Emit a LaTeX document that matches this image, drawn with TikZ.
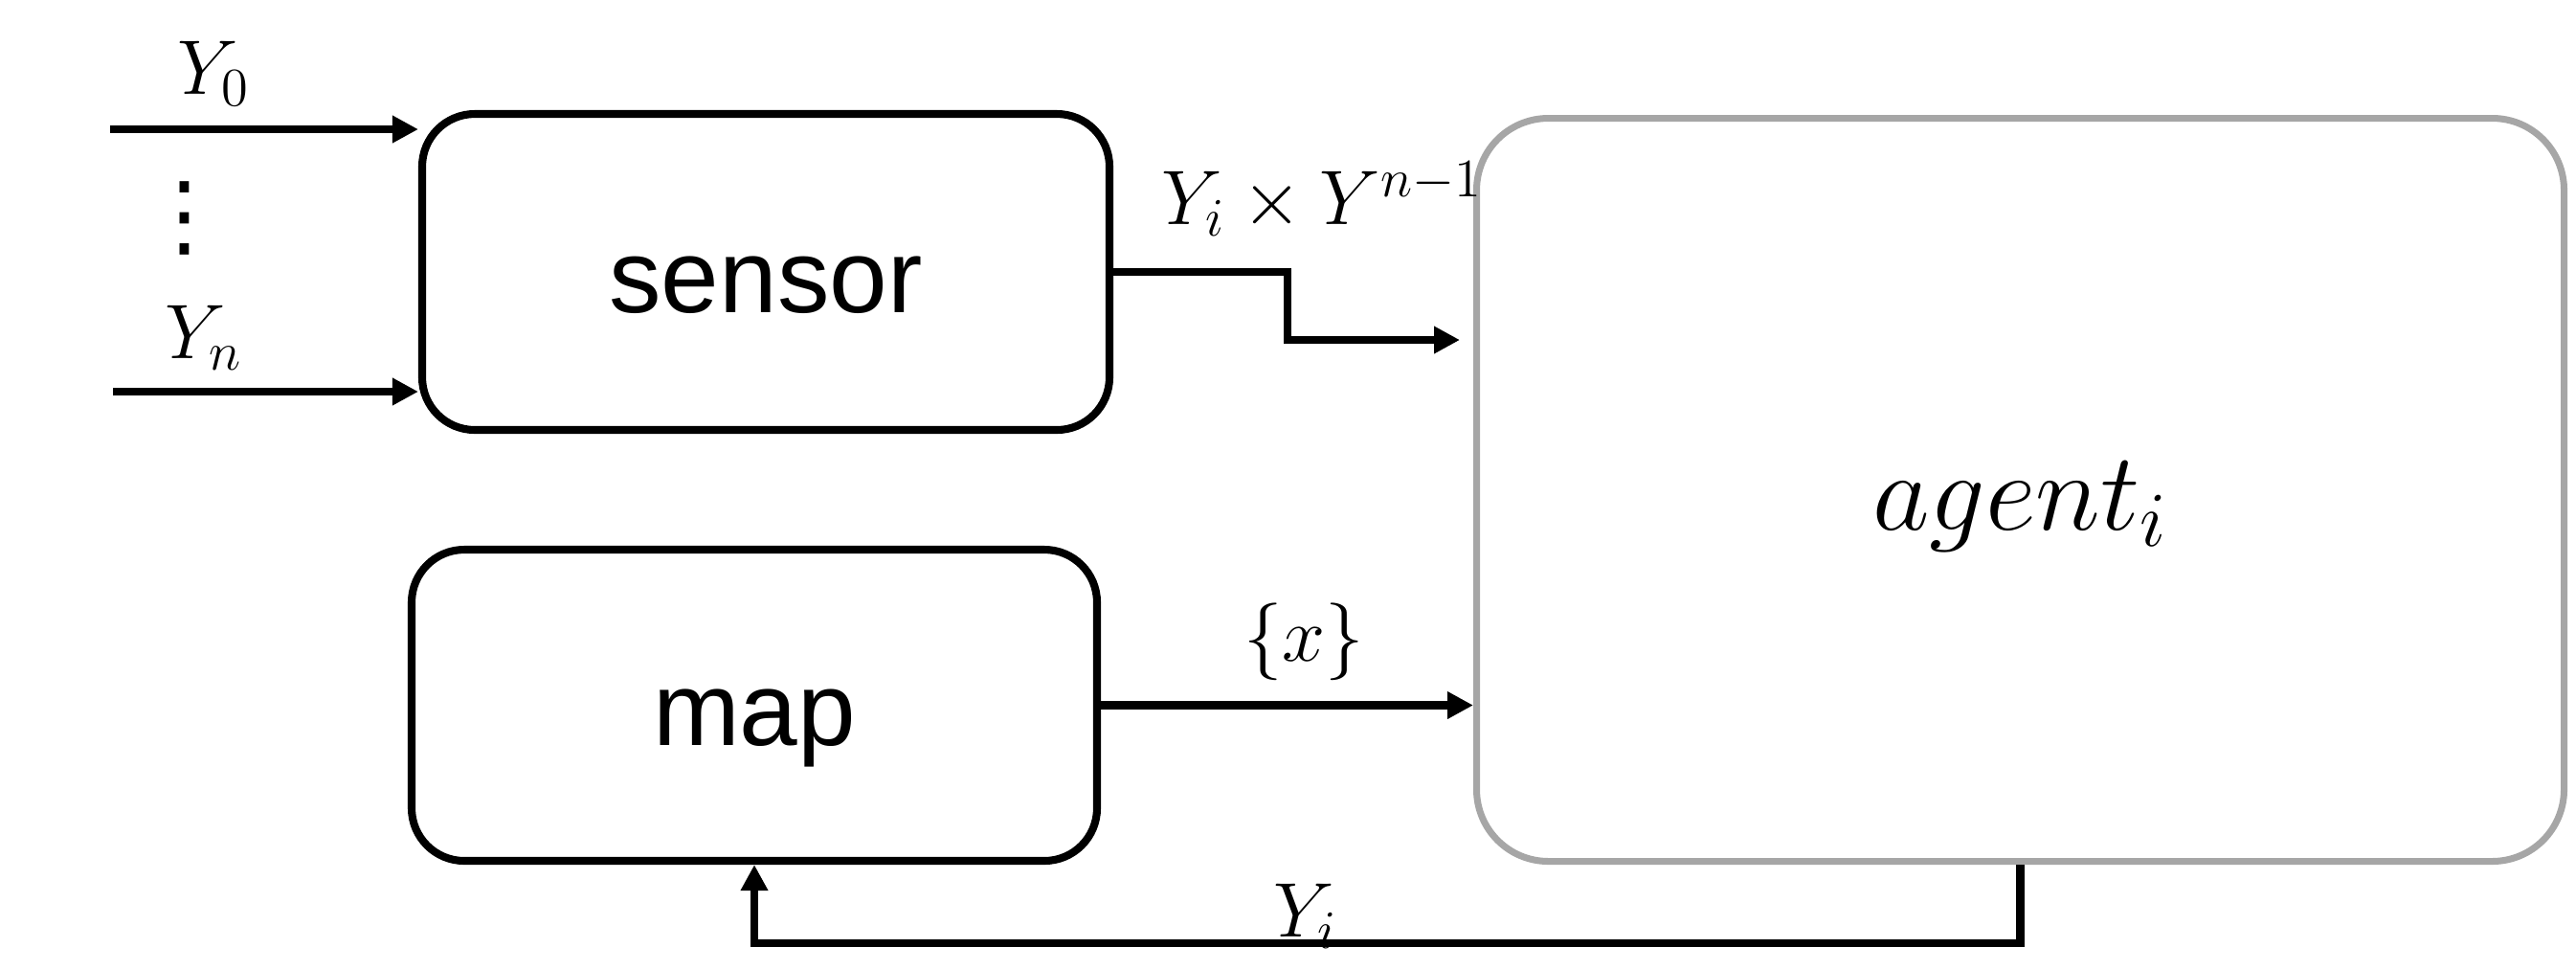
\documentclass[tikz,border=0pt]{standalone}
\usepackage{fix-cm}
\usepackage[no-math]{fontspec}
\newfontfamily\arialfont{Liberation Sans}
\newfontfamily\symfont{DejaVu Sans}
\definecolor{agentgray}{RGB}{166,166,166}
\usetikzlibrary{arrows.meta,positioning,calc}

\begin{document}
\begin{tikzpicture}[
        blk/.style={rectangle, rounded corners=0.55cm, draw=black, line width=2.3pt,
                    text height=1.07cm, text depth=0.23cm,
                    font=\arialfont\fontsize{31}{37}\selectfont},
        agt/.style={rectangle, rounded corners=0.75cm, draw=agentgray, line width=2pt,
                    text height=1.06cm, text depth=0.23cm,
                    font=\fontsize{33}{40}\selectfont},
        arr/.style={line width=2.4pt, -{Triangle[length=0.27cm, width=0.27cm]}},
        lbl/.style={font=\fontsize{23}{28}\selectfont, inner sep=0pt}
      ]
        \useasboundingbox (0,0) rectangle (26.91,-10.12);

        % Blocks
        \node[blk, minimum width=7.18cm, minimum height=3.30cm] (sensor) at (8.00,-2.84) {sensor};
        \node[blk, minimum width=7.16cm, minimum height=3.25cm] (map) at (7.88,-7.365) {map};
        \node[agt, minimum width=11.36cm, minimum height=7.76cm] (agent) at (21.105,-5.115) {$agent_i$};

        % Inputs to sensor
        \coordinate (y0in) at (1.15,-1.35);
        \coordinate (ynin) at (1.18,-4.09);
        \draw[arr] (y0in) -- (y0in -| sensor.west);
        \draw[arr] (ynin) -- (ynin -| sensor.west);
        \node[lbl] (ly0) at (2.23,-0.77) {$Y_0$};
        \node[lbl] (lyn) at (2.13,-3.53) {$Y_n$};
        \node[lbl, font=\symfont\fontsize{27}{30}\selectfont] (ldots) at (1.93,-2.28) {⋮};

        % sensor -> agent
        \coordinate (bend) at (13.45,-3.55);
        \draw[arr] (sensor.east) -| (bend) -- ($(bend -| agent.west)+(-0.14,0)$);
        \node[lbl] (lsens) at (13.81,-2.08) {$Y_i \times Y^{n-1}$};

        % map -> agent
        \draw[arr] (map.east) -- (map.east -| agent.west);
        \node[lbl] (lmap) at (13.62,-6.70) {$\{x\}$};

        % feedback agent -> map
        \draw[arr] (agent.south) -- ++(0,-0.82) -| (map.south);
        \node[lbl] (lfb) at (13.64,-9.57) {$Y_i$};
      \end{tikzpicture}
\end{document}
